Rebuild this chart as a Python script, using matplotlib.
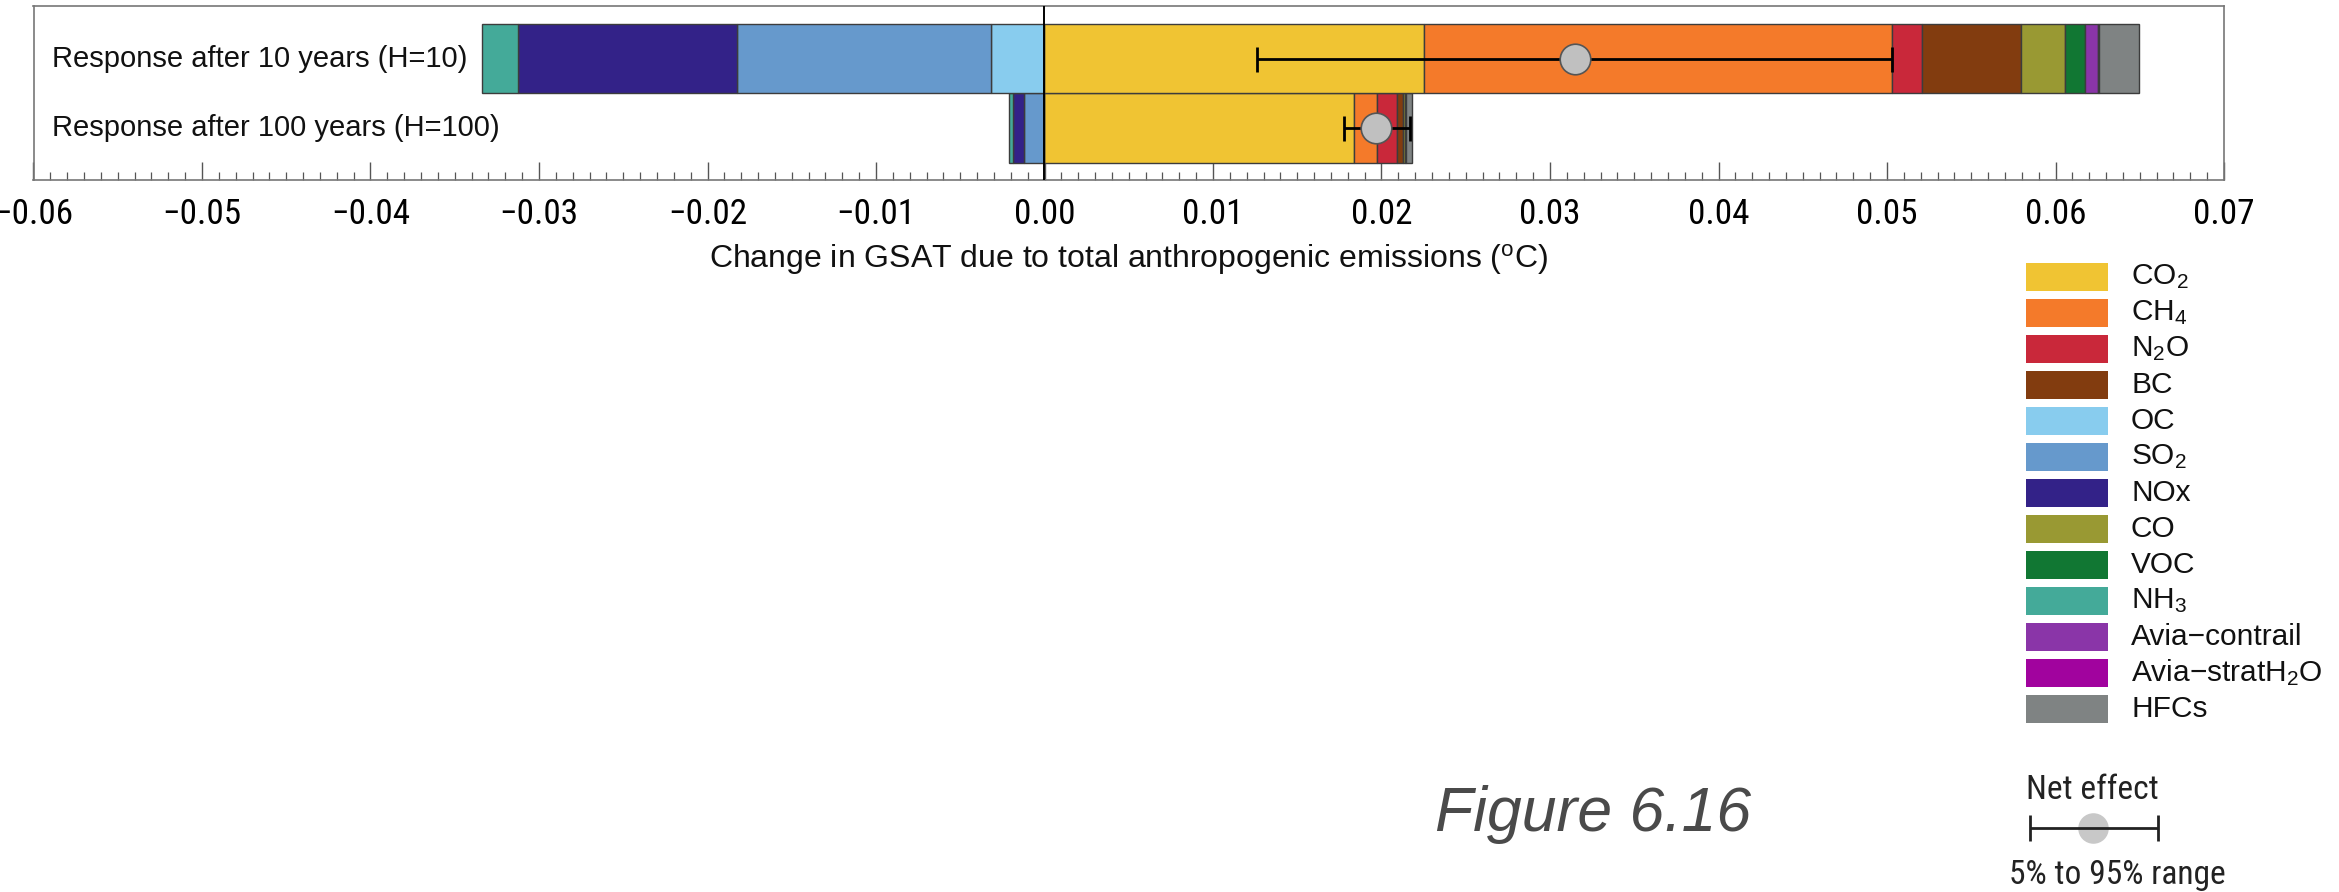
import numpy as np
import matplotlib
matplotlib.use('Agg')
import matplotlib.pyplot as plt
from matplotlib import font_manager
from matplotlib.patches import Rectangle
from matplotlib.ticker import MultipleLocator, FuncFormatter


def have_font(name):
    try:
        font_manager.findfont(name, fallback_to_default=False)
        return True
    except ValueError:
        return False


REG = 'Liberation Sans'
# condensed face for tick labels (reference uses a narrow Helvetica); width ratio vs regular
NARROW, NARROW_R = REG, 1.0
for name, r in [('Liberation Sans Narrow', 0.82), ('Roboto Condensed', 0.87),
                ('DejaVu Sans Condensed', 0.98)]:
    if have_font(name):
        NARROW, NARROW_R = name, r
        break

plt.rcParams['font.family'] = [REG, 'DejaVu Sans']
plt.rcParams['mathtext.fontset'] = 'custom'
plt.rcParams['mathtext.rm'] = REG
plt.rcParams['mathtext.it'] = REG + ':italic'

# species in legend / stacking order
species = ['CO$_2$', 'CH$_4$', 'N$_2$O', 'BC', 'OC', 'SO$_2$', 'NOx', 'CO', 'VOC',
           'NH$_3$', 'Avia\u2212contrail', 'Avia\u2212stratH$_2$O', 'HFCs']
colors = ['#f0c433', '#f47a2a', '#c9283a', '#823c0f', '#88ccee', '#6699cc', '#332288',
          '#999933', '#117733', '#44aa99', '#8a35a8', '#a1039e', '#7f8383']

# GSAT response (degC) per species
h10 = [0.02254, 0.02776, 0.00176, 0.00587, -0.00318, -0.01506, -0.01299,
       0.00265, 0.00119, -0.00216, 0.00075, 0.00005, 0.00237]
h100 = [0.01834, 0.00140, 0.00119, 0.00034, -0.00003, -0.00118, -0.00068,
        0.00012, 0.00006, -0.00020, 0.00002, 0.00001, 0.00031]

rows = ['Response after 100 years (H=100)', 'Response after 10 years (H=10)']
responses = [h100, h10]
net = [0.0197, 0.0315]
p05 = [0.0178, 0.0126]
p95 = [0.0217, 0.0503]

W, H = 2339, 892
fig = plt.figure(figsize=(W / 100, H / 100), dpi=100)

# overlay in pixel units for the hand-made legend
lax = fig.add_axes([0, 0, 1, 1])
lax.set_xlim(0, W)
lax.set_ylim(H, 0)
lax.axis('off')

ax = fig.add_axes([33.5 / W, 1 - 180 / H, (2224 - 33.5) / W, 174 / H])

for j, vals in enumerate(responses):
    pos, neg = 0.0, 0.0
    for v, c in zip(vals, colors):
        if v >= 0:
            ax.barh(j, v, left=pos, height=1.0, color=c, edgecolor='#3c3c3c', linewidth=1.0, zorder=2)
            pos += v
        else:
            ax.barh(j, -v, left=neg + v, height=1.0, color=c, edgecolor='#3c3c3c', linewidth=1.0, zorder=2)
            neg += v

ax.axvline(0, color='black', lw=1.4, zorder=3)

ypos = np.arange(len(rows))
ax.errorbar(net, ypos, xerr=[np.array(net) - np.array(p05), np.array(p95) - np.array(net)],
            fmt='none', ecolor='black', elinewidth=2.0, capsize=9, capthick=2.0, zorder=4)
ax.plot(net, ypos, 'o', ms=22, mfc='#c0c0c0', mec='#555555', mew=1.2, zorder=5)

for j, r in enumerate(rows):
    ax.text(0.0085, j, r, transform=ax.get_yaxis_transform(), ha='left', va='center',
            fontsize=21, color='#111111')

ax.set_xlim(-0.06, 0.07)
ax.set_ylim(-0.745, 1.759)
ax.set_yticks([])
ax.xaxis.set_major_locator(MultipleLocator(0.01))
ax.xaxis.set_minor_locator(MultipleLocator(0.001))
ax.xaxis.set_major_formatter(FuncFormatter(lambda v, p: f'{v:.2f}'.replace('-', '\u2212')))
tick_fs = 22 / NARROW_R
ax.tick_params(axis='x', which='major', direction='in', length=13, width=1, color='#555555',
               pad=14 - (tick_fs - 22) * 0.3, labelsize=tick_fs)
ax.tick_params(axis='x', which='minor', direction='in', length=5.8, width=0.9, color='#555555')
for lab in ax.get_xticklabels():
    lab.set_fontfamily(NARROW)
for s in ax.spines.values():
    s.set_color('#777777')
    s.set_linewidth(1.2)

ax.set_xlabel('Change in GSAT due to total anthropogenic emissions ($^{\\rm o}$C)',
              fontsize=23, labelpad=8, color='#111111')

# legend
for i, (name, c) in enumerate(zip(species, colors)):
    yc = 277 + 36 * i
    lax.add_patch(Rectangle((2026, yc - 14), 82, 28, color=c, lw=0))
    lax.text(2131, yc, name, ha='left', va='center', fontsize=21.5, color='#111111')

net_fs = 21 / NARROW_R
lax.text(2092, 790, 'Net effect', ha='center', va='center', fontsize=net_fs,
         family=NARROW, color='#222222')
lax.plot([2093], [828], 'o', ms=22, mfc='#c8c8c8', mec='none', zorder=1)
lax.errorbar(2094, 828, xerr=64, fmt='none', ecolor='#222222', elinewidth=2.0,
             capsize=9.5, capthick=2.0, zorder=2)
lax.text(2117, 875, '5% to 95% range', ha='center', va='center', fontsize=net_fs,
         family=NARROW, color='#222222')

fig.text(1593 / W, 1 - 815 / H, 'Figure 6.16', ha='center', va='center', fontsize=45,
         style='italic', color='#4a4a4a')

fig.savefig('out.png', dpi=100)
